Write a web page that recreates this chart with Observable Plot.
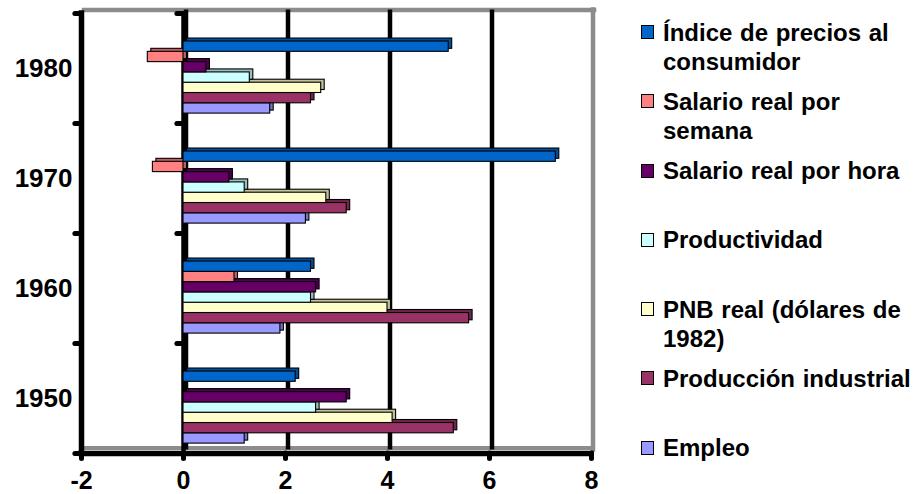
<!DOCTYPE html>
<html>
<head>
<meta charset="utf-8">
<script src="https://cdn.jsdelivr.net/npm/d3@7"></script>
<script src="https://cdn.jsdelivr.net/npm/@observablehq/plot@0.6"></script>
<style>
  body { margin: 0; background: #fff; }
  #chart { position: relative; width: 917px; height: 494px; font-family: "Liberation Sans", Arial, sans-serif; }
  #chart svg { position: absolute; left: 0; top: 0; }
  #legend { position: absolute; left: 641px; top: 17.5px; }
  .item { position: relative; height: 69.3px; }
  .swatch { position: absolute; left: 0; top: 7.5px; width: 11px; height: 12px; border: 1px solid #000; }
  .label { position: absolute; left: 22px; top: 0; width: 254px; font-size: 24px; font-weight: bold; line-height: 29px; color: #000; word-spacing: 1px; }
</style>
</head>
<body>
<div id="chart"><div id="legend"></div></div>
<script>
// Decades on the category axis (bottom to top)
const decades = ["1950", "1960", "1970", "1980"];

// Series, listed from the top bar of each group to the bottom one
const seriesNames = [
  "Índice de precios al consumidor",
  "Salario real por semana",
  "Salario real por hora",
  "Productividad",
  "PNB real (dólares de 1982)",
  "Producción industrial",
  "Empleo"
];
const seriesColors = ["#0066CC", "#FF8080", "#660066", "#CCFFFF", "#FFFFCC", "#993366", "#9999FF"];

// Average annual change (%) per decade: 1950, 1960, 1970, 1980
const indicePrecios    = [2.2, 2.5, 7.3, 5.2];
const salarioSemana    = [0.0, 1.0, -0.6, -0.7];
const salarioHora      = [3.2, 2.6, 0.9, 0.45];
const productividad    = [2.6, 2.5, 1.2, 1.3];
const pnbReal          = [4.1, 4.0, 2.8, 2.7];
const produccionInd    = [5.3, 5.6, 3.2, 2.5];
const empleo           = [1.2, 1.9, 2.4, 1.7];

const xTicks = [-2, 0, 2, 4, 6, 8];
const gridValues = [2, 4, 6];

const seriesValues = [indicePrecios, salarioSemana, salarioHora, productividad, pnbReal, produccionInd, empleo];

// One row per bar
const rows = seriesNames.flatMap((name, s) =>
  seriesValues[s].map((v, i) => ({name, s, i, decade: decades[i], v}))
);

// Vertical layout of a group of bars inside one decade band
const groupPad = 0.09;
const barStep = 0.0936;
const nSeries = seriesNames.length;
const yLow = r => r.i + groupPad + (nSeries - 1 - r.s) * barStep;
const yHigh = r => yLow(r) + barStep;

// Each bar: a darker copy pushed back for depth, then the front face.
// Lower bars are drawn first so upper bars cover their top faces.
const barMarks = d3.range(nSeries - 1, -1, -1).flatMap(s => {
  const data = rows.filter(r => r.s === s);
  const base = {x1: 0, x2: "v", y1: yLow, y2: yHigh, stroke: "#000", strokeWidth: 1.1};
  const side = d3.color(seriesColors[s]).darker(0.8).formatHex();
  return [
    Plot.rect(data, {...base, fill: side, dx: 3.5, dy: -3}),
    Plot.rect(data, {...base, fill: seriesColors[s]})
  ];
});

const bounds = d3.range(decades.length + 1);

const chart = Plot.plot({
  width: 917,
  height: 494,
  marginLeft: 81,
  marginRight: 326,
  marginTop: 13,
  marginBottom: 41,
  style: {fontFamily: "'Liberation Sans', Arial, sans-serif", fontWeight: "bold", color: "#000", background: "transparent", overflow: "visible"},
  x: {domain: [-2, 8], axis: null, label: null},
  y: {domain: [0, decades.length], axis: null, label: null},
  marks: [
    // back wall: gray border and floor edge
    Plot.ruleY([decades.length], {x1: -2, x2: 8, dx: 3, dy: -3.5, stroke: "#8c8c8c", strokeWidth: 4.5, strokeLinecap: "square"}),
    Plot.ruleX([8], {y1: 0, y2: decades.length, dx: 1.5, dy: -3.5, stroke: "#8c8c8c", strokeWidth: 4.5, strokeLinecap: "square"}),
    Plot.ruleY([0], {x1: -2, x2: 8, dx: 3, dy: -5.5, stroke: "#8c8c8c", strokeWidth: 4}),
    // gridlines on the back wall
    Plot.ruleX(gridValues, {y1: 0, y2: decades.length, dx: 2.5, dy: -3.5, stroke: "#000", strokeWidth: 4.5}),
    // zero line (front and back edges)
    Plot.ruleX([0], {y1: 0, y2: decades.length, dx: 2.5, dy: -3.5, stroke: "#000", strokeWidth: 4.5}),
    Plot.ruleX([0], {y1: 0, y2: decades.length, stroke: "#000", strokeWidth: 4.5}),
    // group boundary ticks on the category axis and on the zero line
    Plot.ruleY(bounds, {y: d => d, x1: -2.12, x2: -2, stroke: "#000", strokeWidth: 5, strokeLinecap: "round"}),
    Plot.ruleY(bounds, {y: d => d, x1: -0.12, x2: 0, stroke: "#000", strokeWidth: 5, strokeLinecap: "round"}),
    ...barMarks,
    // front axes
    Plot.ruleX([-2], {y1: 0, y2: decades.length, stroke: "#000", strokeWidth: 5.5, strokeLinecap: "square"}),
    Plot.ruleY([0], {x1: -2, x2: 8, stroke: "#000", strokeWidth: 5.5, strokeLinecap: "square"}),
    Plot.ruleX(xTicks, {x: d => d, y1: 0, y2: -0.05, stroke: "#000", strokeWidth: 5, strokeLinecap: "round"}),
    Plot.axisX({ticks: xTicks, tickSize: 0, tickPadding: 18, fontSize: 25, fontWeight: "bold", label: null, tickFormat: d => String(d)}),
    Plot.text(decades, {x: -2, y: (d, i) => i + 0.5, dx: -9, textAnchor: "end", fontSize: 26, fontWeight: "bold", fill: "#000"})
  ]
});

const root = document.getElementById("chart");
root.insertBefore(chart, root.firstChild);

// Legend, one entry per series
const legend = d3.select("#legend");
seriesNames.forEach((name, s) => {
  const item = legend.append("div").attr("class", "item");
  item.append("div").attr("class", "swatch").style("background", seriesColors[s]);
  item.append("div").attr("class", "label").text(name);
});
</script>
</body>
</html>
